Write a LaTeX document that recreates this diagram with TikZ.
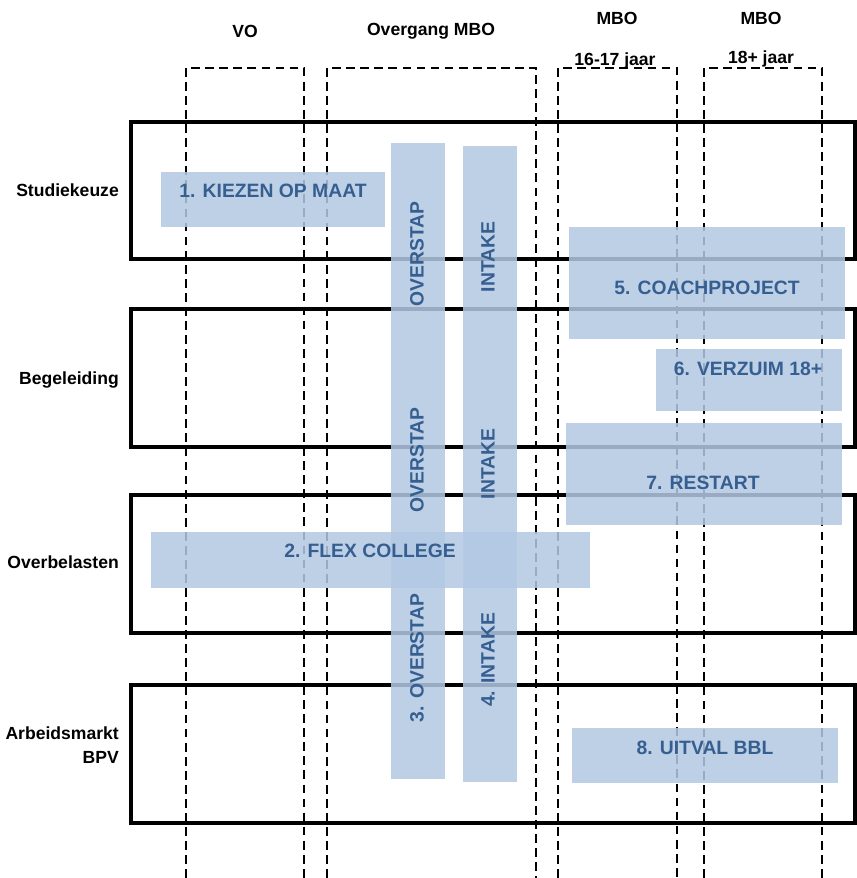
\documentclass[tikz,border=0pt]{standalone}
\usepackage{fontspec}
\setmainfont{Liberation Sans}
\usepackage{tikz}
\usetikzlibrary{calc}

\definecolor{barblue}{RGB}{179,200,226}
\definecolor{txtblue}{RGB}{54,95,145}

\begin{document}
\begin{tikzpicture}[x=0.02cm,y=-0.02cm,
    lane/.style={black,line width=0.7pt,dash pattern=on 5pt off 3pt},
    rowbox/.style={black,line width=2pt},
    bar/.style={fill=barblue,fill opacity=0.86},
    bartext/.style={text=txtblue,font=\fontsize{11}{13}\selectfont\bfseries},
    head/.style={font=\fontsize{10}{14}\selectfont\bfseries}]

\useasboundingbox (0,0) rectangle (857,878);

% lanes (open at the bottom)
\foreach \l/\r in {186/304,327/536,558/677,704/822}
    \draw[lane] (\l,878) -- (\l,68) -- (\r,68) -- (\r,878);

% rows
\foreach \t/\b in {122/259,309/447,495/633,685/823}
    \draw[rowbox] (131,\t) rectangle (855,\b);

\node[head] (vo) at (245,31) {VO};
\node[head] (overgang) at (431,31) {Overgang MBO};
\node[head] (mboA) at (617,18) {MBO};
\node[head] (jong) at (615,61) {16-17 jaar};
\node[head] (mboB) at (761,18) {MBO};
\node[head] (oud) at (761,59) {18+ jaar};

\node[head,anchor=east] (studie) at (125,190) {Studiekeuze};
\node[head,anchor=east] (begel) at (125,380) {Begeleiding};
\node[head,anchor=east] (overbel) at (125,562) {Overbelasten};
\node[head,anchor=east,align=right] (arbeid) at (125,745) {Arbeidsmarkt\\BPV};

% bars
\fill[bar] (161,172) rectangle (385,227);
\node[bartext] (kiezen) at (273,191) {1. KIEZEN OP MAAT};

\fill[bar] (391,143) rectangle (445,779);
\fill[bar] (463,146) rectangle (517,782);
\node[bartext,rotate=90] (overstapA) at (417,254) {OVERSTAP};
\node[bartext,rotate=90] (overstapB) at (417,460) {OVERSTAP};
\node[bartext,rotate=90] (overstapC) at (417,658) {3. OVERSTAP};
\node[bartext,rotate=90] (intakeA) at (488,257) {INTAKE};
\node[bartext,rotate=90] (intakeB) at (488,464) {INTAKE};
\node[bartext,rotate=90] (intakeC) at (488,660) {4. INTAKE};

\fill[bar] (151,532) rectangle (590,588);
\node[bartext] (flex) at (370,551) {2. FLEX COLLEGE};

\fill[bar] (569,227) rectangle (845,339);
\node[bartext] (coach) at (707,288) {5. COACHPROJECT};

\fill[bar] (656,349) rectangle (842,411);
\node[bartext] (verzuim) at (748,369) {6. VERZUIM 18+};

\fill[bar] (566,423) rectangle (842,525);
\node[bartext] (restart) at (703,483) {7. RESTART};

\fill[bar] (572,728) rectangle (838,783);
\node[bartext] (uitval) at (705,748) {8. UITVAL BBL};

\end{tikzpicture}
\end{document}
